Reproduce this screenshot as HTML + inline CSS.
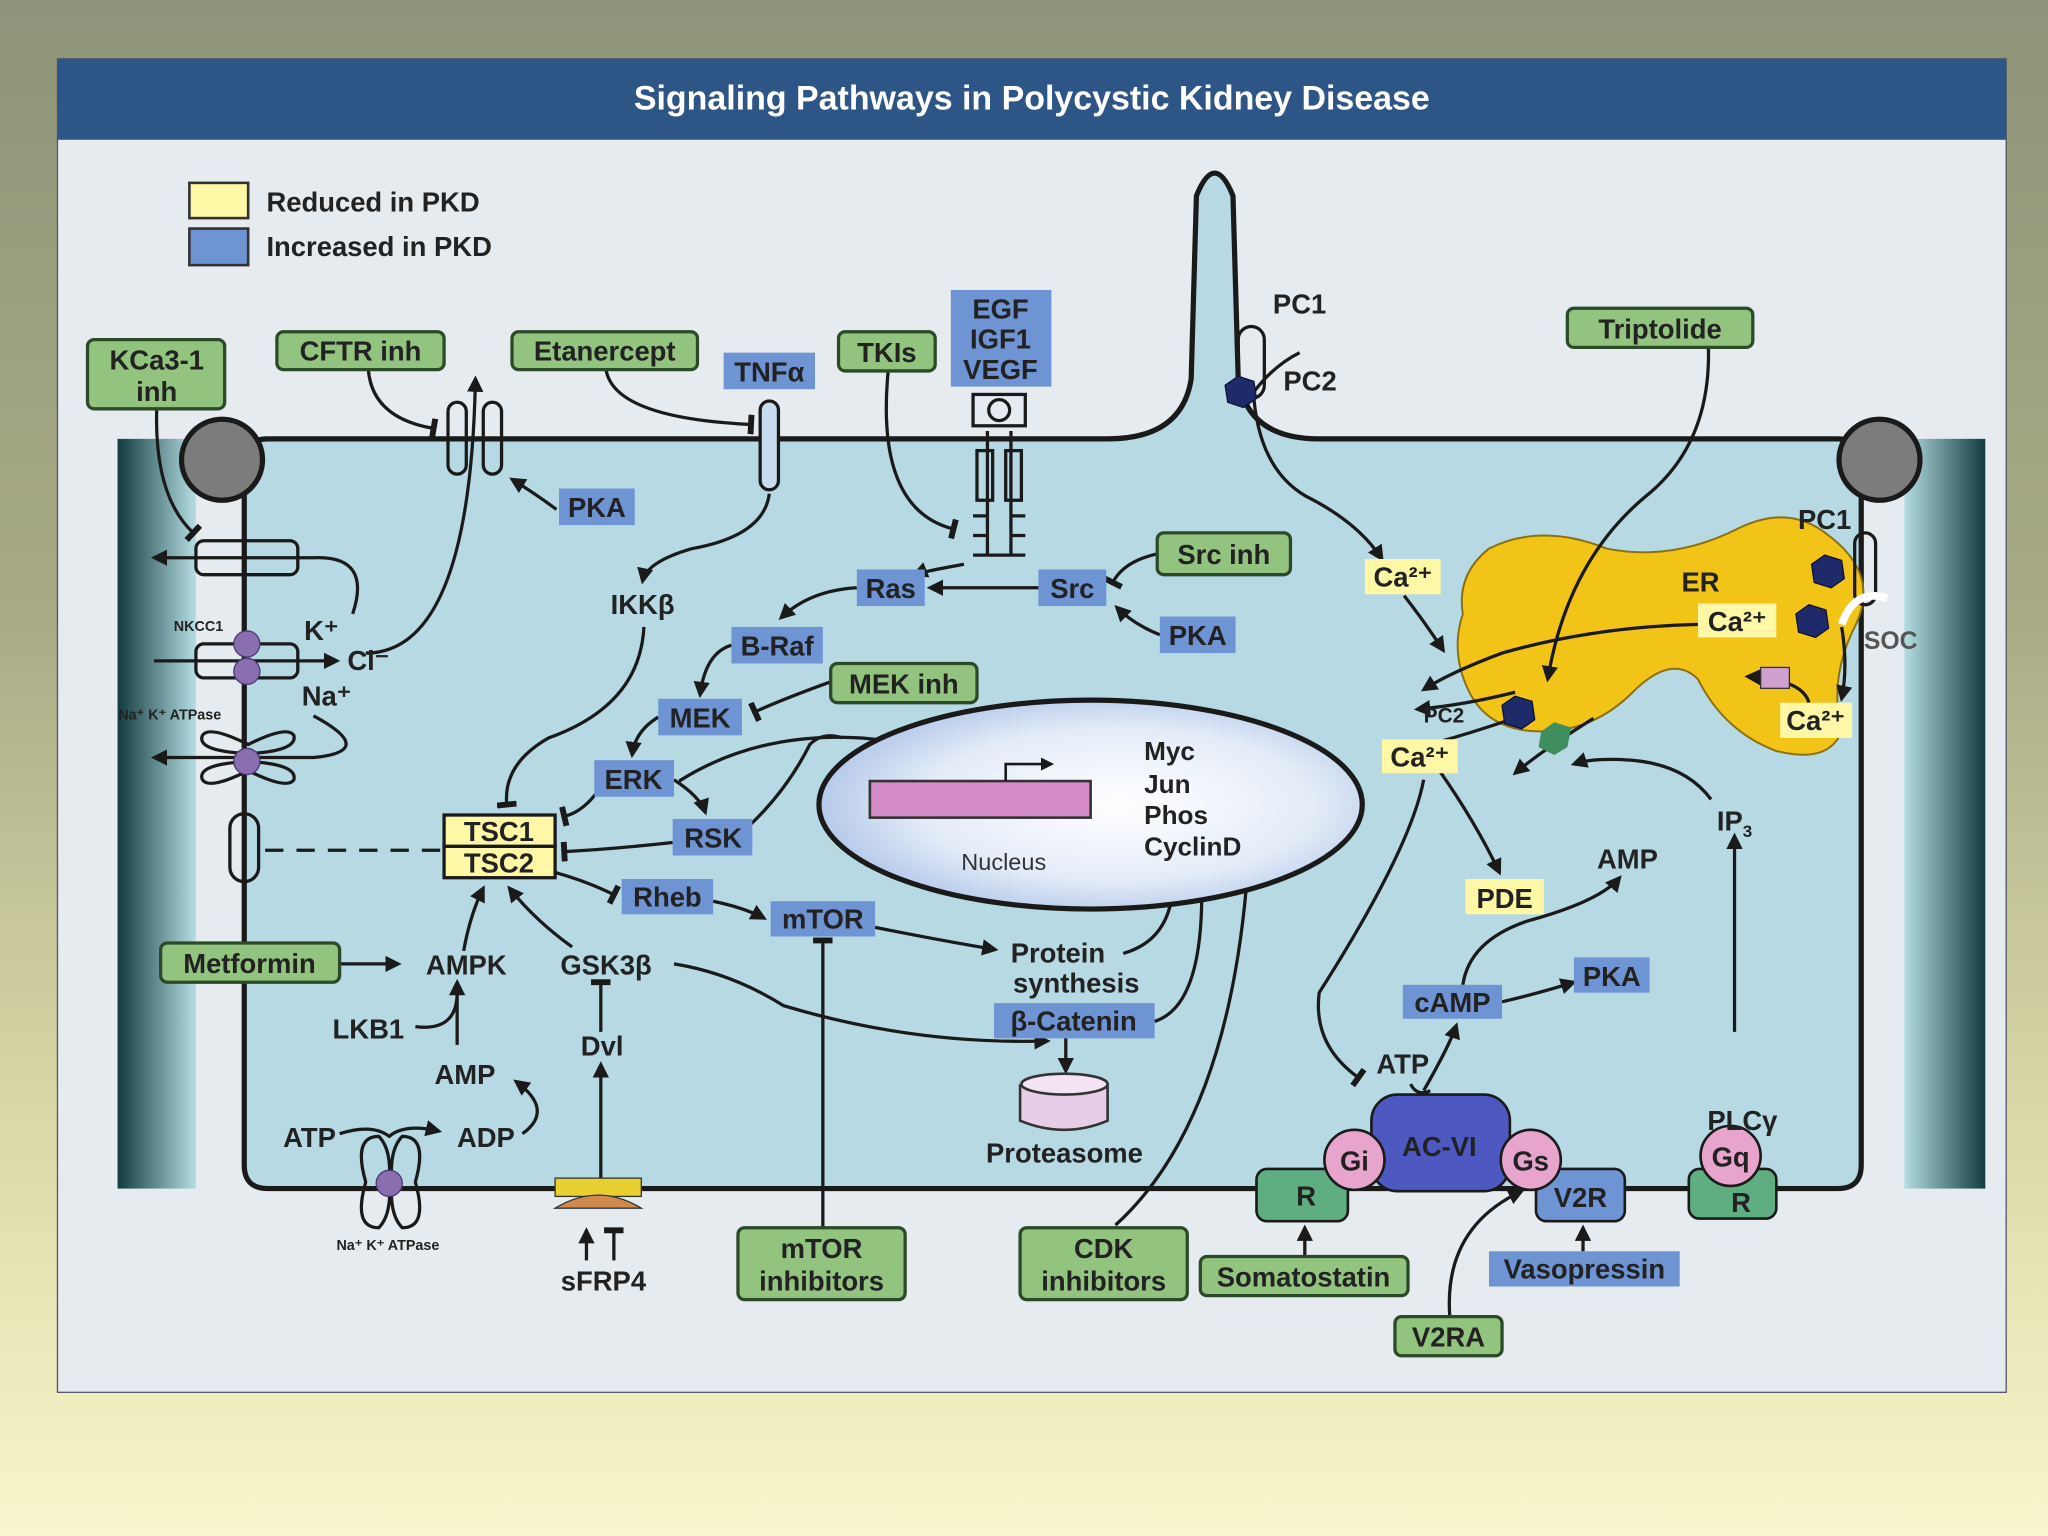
<!DOCTYPE html>
<html><head><meta charset="utf-8"><style>
html,body{margin:0;padding:0;width:2048px;height:1536px;overflow:hidden}
body{background:linear-gradient(#8e9479 0%,#a9ab86 40%,#dcdcaa 75%,#f8f6cc 100%)}
svg{display:block}
text{font-family:"Liberation Sans",sans-serif;font-weight:bold;fill:#222}
</style></head><body>
<svg width="2048" height="1536" viewBox="0 0 1568 1176" xmlns="http://www.w3.org/2000/svg">
<defs>
<marker id="a" viewBox="0 0 10 10" refX="8" refY="5" markerWidth="5" markerHeight="5" orient="auto"><path d="M0,0L10,5L0,10z" fill="#1a1a1a"/></marker>
<marker id="t" viewBox="0 0 10 10" refX="5" refY="5" markerWidth="6" markerHeight="6" orient="auto"><path d="M5,0V10" stroke="#1a1a1a" stroke-width="3"/></marker>
<linearGradient id="w" x1="0" x2="1"><stop offset="0" stop-color="#123c40"/><stop offset="1" stop-color="#b5dde3"/></linearGradient>
<linearGradient id="w2" x1="1" x2="0"><stop offset="0" stop-color="#123c40"/><stop offset="1" stop-color="#b5dde3"/></linearGradient>
<radialGradient id="n" cx="0.55" cy="0.5" r="0.6"><stop offset="0" stop-color="#ffffff"/><stop offset="0.6" stop-color="#e4ecf8"/><stop offset="1" stop-color="#a9c0e6"/></radialGradient>
</defs>
<rect x="44" y="45" width="1492" height="1021" fill="#e6ebef" stroke="#556" stroke-width="1"/>
<rect x="44" y="45" width="1492" height="62" fill="#2d5585"/>
<text x="790" y="84" text-anchor="middle" font-size="26" style="fill:#fff">Signaling Pathways in Polycystic Kidney Disease</text>
<!-- walls -->
<rect x="90" y="336" width="60" height="574" fill="url(#w)"/>
<rect x="1458" y="336" width="62" height="574" fill="url(#w2)"/>
<!-- cell -->
<path d="M205,336 H848 Q905,336 912,290 L916,150 Q930,115 944,150 L948,290 Q955,336 1010,336 H1407 Q1425,336 1425,354 V892 Q1425,910 1407,910 H205 Q187,910 187,892 V354 Q187,336 205,336Z" fill="#b6d9e4" stroke="#1a1a1a" stroke-width="4"/>
<circle cx="170" cy="352" r="31" fill="#7c7c7c" stroke="#1a1a1a" stroke-width="4"/>
<circle cx="1439" cy="352" r="31" fill="#7c7c7c" stroke="#1a1a1a" stroke-width="4"/>
<!-- legend -->
<rect x="145" y="140" width="45" height="27" fill="#fdf7a6" stroke="#333" stroke-width="2"/>
<rect x="145" y="175" width="45" height="28" fill="#6f94d4" stroke="#333" stroke-width="2"/>
<text x="204" y="162" font-size="21">Reduced in PKD</text>
<text x="204" y="196" font-size="21">Increased in PKD</text>
<!-- ER -->
<path d="M1140,420 Q1180,400 1230,420 Q1280,430 1330,405 Q1370,385 1400,410 Q1440,440 1420,480 Q1400,520 1410,560 Q1400,585 1360,575 Q1320,560 1300,520 Q1280,500 1250,530 Q1220,560 1180,560 Q1140,560 1125,530 Q1110,500 1120,470 Q1115,440 1140,420Z" fill="#f2c418" stroke="#8a7010" stroke-width="1.5"/>
<g stroke="#1a1a1a" stroke-width="2.5" fill="none">
<!-- channels -->
<rect x="150" y="414" width="78" height="26" rx="6"/>
<rect x="150" y="493" width="78" height="26" rx="6"/>
<path d="M155,563 Q150,575 190,577 Q228,575 225,563 Q220,555 190,570 Q160,555 155,563Z M155,597 Q150,585 190,583 Q228,585 225,597 Q220,605 190,590 Q160,605 155,597Z"/>
<rect x="176" y="623" width="22" height="52" rx="11"/>
<rect x="343" y="308" width="14" height="55" rx="7"/><rect x="370" y="308" width="14" height="55" rx="7"/>
<rect x="582" y="307" width="14" height="68" rx="7" fill="#c8dcef"/>
<rect x="748" y="345" width="12" height="38"/><rect x="770" y="345" width="12" height="38"/>
<rect x="745" y="302" width="40" height="24"/>
<circle cx="765" cy="314" r="8"/>
<path d="M756,330 V425 M774,330 V425 M745,395 H756 M745,410 H756 M774,395 H785 M774,410 H785 M745,425 H785"/>
<rect x="948" y="250" width="20" height="55" rx="10"/>
<rect x="1420" y="408" width="16" height="55" rx="8"/>
<path d="M280,905 Q270,870 290,870 Q300,880 298,905 Q300,930 290,940 Q270,940 280,905Z M318,905 Q328,870 308,870 Q298,880 300,905 Q298,930 308,940 Q328,940 318,905Z"/>
<!-- arrows -->
<path d="M120,313 Q118,380 148,408" marker-end="url(#t)"/>
<path d="M270,470 Q285,425 240,427 H118" marker-end="url(#a)"/>
<path d="M118,506 H258" marker-end="url(#a)"/>
<path d="M240,548 Q290,575 240,580 H118" marker-end="url(#a)"/>
<path d="M280,500 Q360,500 364,290" marker-end="url(#a)"/>
<path d="M282,283 Q285,320 332,328" marker-end="url(#t)"/>
<path d="M426,390 Q410,378 392,367" marker-end="url(#a)"/>
<path d="M464,283 Q470,320 575,325" marker-end="url(#t)"/>
<path d="M589,378 Q585,410 530,420 Q495,430 492,445" marker-end="url(#a)"/>
<path d="M680,284 Q670,390 730,405" marker-end="url(#t)"/>
<path d="M738,432 Q705,438 700,440" marker-end="url(#a)"/>
<path d="M797,450 H712" marker-end="url(#a)"/>
<path d="M886,424 Q860,430 852,446" marker-end="url(#t)"/>
<path d="M888,486 Q868,478 855,465" marker-end="url(#a)"/>
<path d="M656,450 Q620,452 598,473" marker-end="url(#a)"/>
<path d="M560,494 Q540,500 536,532" marker-end="url(#a)"/>
<path d="M636,522 Q600,535 578,545" marker-end="url(#t)"/>
<path d="M504,549 Q486,560 484,578" marker-end="url(#a)"/>
<path d="M516,597 Q536,610 540,622" marker-end="url(#a)"/>
<path d="M456,608 Q445,622 432,625" marker-end="url(#t)"/>
<path d="M515,645 Q470,650 432,652" marker-end="url(#t)"/>
<path d="M520,598 Q580,560 660,565 Q710,570 730,578" marker-end="url(#a)"/>
<path d="M565,640 Q600,610 620,570 Q630,560 645,565"/>
<path d="M493,480 Q490,540 420,565 Q385,585 388,616" marker-end="url(#t)"/>
<path d="M203,651 H340" stroke-dasharray="14,10"/>
<path d="M425,668 Q450,675 470,685" marker-end="url(#t)"/>
<path d="M546,690 Q570,695 585,703" marker-end="url(#a)"/>
<path d="M670,710 Q720,720 762,727" marker-end="url(#a)"/>
<path d="M860,730 Q895,720 898,680" marker-end="url(#a)"/>
<path d="M884,782 Q922,770 920,675" marker-end="url(#a)"/>
<path d="M854,938 Q940,860 955,670" marker-end="url(#t)"/>
<path d="M630,940 V720" marker-end="url(#t)"/>
<path d="M258,738 H305" marker-end="url(#a)"/>
<path d="M350,800 V752" marker-end="url(#a)"/>
<path d="M318,786 Q350,790 350,760"/>
<path d="M355,728 Q360,700 370,680" marker-end="url(#a)"/>
<path d="M438,725 Q410,705 390,680" marker-end="url(#a)"/>
<path d="M460,790 V752" marker-end="url(#t)"/>
<path d="M460,905 V815" marker-end="url(#a)"/>
<path d="M516,738 Q560,745 600,770 Q700,800 802,797" marker-end="url(#a)"/>
<path d="M816,795 V820" marker-end="url(#a)"/>
<path d="M260,868 Q285,860 298,870 Q310,860 336,866" marker-end="url(#a)"/>
<path d="M400,868 Q425,850 395,828" marker-end="url(#a)"/>
<path d="M449,965 V942" marker-end="url(#a)"/>
<path d="M470,965 V942" marker-end="url(#t)"/>
<path d="M999,962 V940" marker-end="url(#a)"/>
<path d="M1212,958 V940" marker-end="url(#a)"/>
<path d="M1110,1008 Q1105,940 1165,912" marker-end="url(#a)"/>
<path d="M995,270 Q975,280 960,300"/>
<path d="M960,305 Q965,360 1000,380 Q1040,400 1058,428" marker-end="url(#a)"/>
<path d="M1075,456 Q1090,475 1105,498" marker-end="url(#a)"/>
<path d="M1308,266 Q1310,340 1260,380 Q1200,430 1185,520" marker-end="url(#a)"/>
<path d="M1300,478 Q1220,480 1150,500 Q1110,515 1090,528" marker-end="url(#a)"/>
<path d="M1160,530 Q1120,540 1085,543" marker-end="url(#a)"/>
<path d="M1165,548 Q1130,560 1105,567"/>
<path d="M1220,550 Q1180,575 1160,592" marker-end="url(#a)"/>
<path d="M1328,790 V640" marker-end="url(#a)"/>
<path d="M1310,612 Q1290,585 1248,582 Q1220,580 1205,585" marker-end="url(#a)"/>
<path d="M1385,538 Q1380,520 1338,518" marker-end="url(#a)"/>
<path d="M1410,480 Q1415,510 1410,535" marker-end="url(#a)"/>
<path d="M1090,597 Q1080,650 1010,760 Q1005,800 1040,825" marker-end="url(#t)"/>
<path d="M1102,590 Q1130,630 1148,668" marker-end="url(#a)"/>
<path d="M1090,835 Q1110,800 1115,785" marker-end="url(#a)"/>
<path d="M1080,830 Q1085,840 1095,835"/>
<path d="M1150,767 Q1180,760 1205,752" marker-end="url(#a)"/>
<path d="M1120,754 Q1125,720 1170,705 Q1225,690 1240,672" marker-end="url(#a)"/>
</g>
<!-- purple balls -->
<g fill="#8a6fb0" stroke="#4a3a70" stroke-width="1"><circle cx="189" cy="493" r="10"/><circle cx="189" cy="514" r="10"/><circle cx="189" cy="583" r="10"/><circle cx="298" cy="906" r="10"/></g>
<!-- hexagons -->
<g fill="#1e2a6a" stroke="#0d1233"><polygon points="938,295 948,288 960,292 962,305 952,312 940,308"/><polygon points="1387,432 1397,425 1410,429 1412,443 1402,450 1389,446"/><polygon points="1375,470 1385,463 1398,467 1400,481 1390,488 1377,484"/><polygon points="1150,540 1160,533 1173,537 1175,551 1165,558 1152,554"/></g>
<polygon points="1180,560 1190,553 1203,557 1200,572 1190,578 1178,572" fill="#3e8e5e"/>
<rect x="1348" y="511" width="22" height="16" fill="#d0a0d0" stroke="#333"/>
<path d="M1410,478 Q1420,450 1445,458" stroke="#fff" stroke-width="6" fill="none"/>
<!-- nucleus -->
<ellipse cx="835" cy="616" rx="208" ry="80" fill="url(#n)" stroke="#1a1a1a" stroke-width="4"/>
<rect x="666" y="598" width="169" height="28" fill="#d68cc8" stroke="#333" stroke-width="2"/>
<path d="M770,598 V585 H805" stroke="#1a1a1a" stroke-width="2" fill="none" marker-end="url(#a)"/>
<text x="736" y="666" font-size="18" font-weight="normal" style="font-weight:normal;fill:#333">Nucleus</text>
<g font-size="20"><text x="876" y="582">Myc</text><text x="876" y="607">Jun</text><text x="876" y="631">Phos</text><text x="876" y="655">CyclinD</text></g>
<!-- proteasome -->
<path d="M781,830 V858 Q815,872 848,858 V830" fill="#e8cde8" stroke="#333" stroke-width="2"/>
<ellipse cx="815" cy="830" rx="33" ry="8" fill="#f3e3f3" stroke="#333" stroke-width="2"/>
<!-- receptors bottom -->
<rect x="1050" y="838" width="106" height="74" rx="20" fill="#4d58c0" stroke="#1a1a1a" stroke-width="2"/>
<rect x="962" y="895" width="70" height="40" rx="8" fill="#5fae82" stroke="#1a1a1a" stroke-width="2"/>
<rect x="1176" y="895" width="68" height="40" rx="8" fill="#6f94d4" stroke="#1a1a1a" stroke-width="2"/>
<rect x="1293" y="895" width="67" height="38" rx="8" fill="#5fae82" stroke="#1a1a1a" stroke-width="2"/>
<circle cx="1037" cy="888" r="23" fill="#e7a4cc" stroke="#1a1a1a" stroke-width="2"/>
<circle cx="1172" cy="888" r="23" fill="#e7a4cc" stroke="#1a1a1a" stroke-width="2"/>
<circle cx="1325" cy="885" r="23" fill="#e7a4cc" stroke="#1a1a1a" stroke-width="2"/>
<rect x="425" y="902" width="66" height="14" fill="#e8d030" stroke="#333"/>
<path d="M425,925 Q458,905 491,925Z" fill="#d08a50" stroke="#333"/>
<!-- boxes -->
<g stroke="#2c4a28" stroke-width="2.5" fill="#93c47f">
<rect x="67" y="260" width="105" height="53" rx="5"/>
<rect x="212" y="254" width="128" height="29" rx="5"/>
<rect x="392" y="254" width="142" height="29" rx="5"/>
<rect x="642" y="254" width="74" height="30" rx="5"/>
<rect x="1200" y="236" width="142" height="30" rx="5"/>
<rect x="886" y="408" width="102" height="32" rx="5"/>
<rect x="636" y="508" width="112" height="30" rx="5"/>
<rect x="123" y="722" width="137" height="30" rx="5"/>
<rect x="565" y="940" width="128" height="55" rx="5"/>
<rect x="781" y="940" width="128" height="55" rx="5"/>
<rect x="919" y="962" width="159" height="30" rx="5"/>
<rect x="1068" y="1008" width="82" height="30" rx="5"/>
</g>
<g fill="#6f94d4">
<rect x="554" y="270" width="70" height="28"/><rect x="728" y="222" width="77" height="74"/>
<rect x="428" y="374" width="58" height="28"/><rect x="888" y="472" width="58" height="28"/>
<rect x="795" y="436" width="52" height="28"/><rect x="656" y="436" width="52" height="28"/>
<rect x="560" y="480" width="70" height="28"/><rect x="504" y="535" width="64" height="28"/>
<rect x="455" y="582" width="61" height="28"/><rect x="515" y="627" width="61" height="28"/>
<rect x="476" y="673" width="70" height="27"/><rect x="590" y="690" width="80" height="27"/>
<rect x="761" y="768" width="123" height="27"/><rect x="1074" y="754" width="76" height="26"/>
<rect x="1205" y="733" width="58" height="27"/><rect x="1140" y="958" width="146" height="27"/>
</g>
<g fill="#fdf7a6"><rect x="1045" y="428" width="58" height="27"/><rect x="1058" y="566" width="58" height="26"/><rect x="1363" y="538" width="55" height="27"/><rect x="1300" y="462" width="60" height="26"/><rect x="1122" y="673" width="60" height="27"/></g>
<rect x="340" y="624" width="85" height="24" fill="#fdf7a6" stroke="#1a1a1a" stroke-width="2.5"/>
<rect x="340" y="648" width="85" height="24" fill="#fdf7a6" stroke="#1a1a1a" stroke-width="2.5"/>
<!-- labels -->
<g font-size="21" text-anchor="middle">
<text x="120" y="283">KCa3-1</text><text x="120" y="307">inh</text>
<text x="276" y="276">CFTR inh</text><text x="463" y="276">Etanercept</text>
<text x="589" y="292">TNFα</text><text x="679" y="277">TKIs</text>
<text x="766" y="244">EGF</text><text x="766" y="267">IGF1</text><text x="766" y="290">VEGF</text>
<text x="1271" y="259">Triptolide</text><text x="937" y="432">Src inh</text>
<text x="692" y="531">MEK inh</text><text x="191" y="745">Metformin</text>
<text x="629" y="963">mTOR</text><text x="629" y="988">inhibitors</text>
<text x="845" y="963">CDK</text><text x="845" y="988">inhibitors</text>
<text x="998" y="985">Somatostatin</text><text x="1109" y="1031">V2RA</text>
<text x="457" y="396">PKA</text><text x="917" y="494">PKA</text><text x="821" y="458">Src</text><text x="682" y="458">Ras</text>
<text x="595" y="502">B-Raf</text><text x="536" y="557">MEK</text><text x="485" y="604">ERK</text><text x="546" y="649">RSK</text>
<text x="511" y="694">Rheb</text><text x="630" y="711">mTOR</text><text x="822" y="789">β-Catenin</text>
<text x="1112" y="775">cAMP</text><text x="1234" y="755">PKA</text><text x="1213" y="979">Vasopressin</text>
<text x="1074" y="449">Ca²⁺</text><text x="1087" y="587">Ca²⁺</text><text x="1390" y="559">Ca²⁺</text><text x="1330" y="483">Ca²⁺</text>
<text x="1152" y="695">PDE</text>
<text x="382" y="644">TSC1</text><text x="382" y="668">TSC2</text>
<text x="492" y="470">IKKβ</text><text x="357" y="746">AMPK</text><text x="464" y="746">GSK3β</text>
<text x="282" y="795">LKB1</text><text x="356" y="830">AMP</text><text x="237" y="878">ATP</text><text x="372" y="878">ADP</text>
<text x="461" y="808">Dvl</text><text x="462" y="988">sFRP4</text>
<text x="810" y="737">Protein</text><text x="824" y="760">synthesis</text>
<text x="815" y="890">Proteasome</text><text x="1074" y="822">ATP</text>
<text x="1000" y="923">R</text><text x="1333" y="928">R</text><text x="1037" y="896">Gi</text><text x="1172" y="896">Gs</text><text x="1325" y="893">Gq</text>
<text x="1210" y="924">V2R</text><text x="1102" y="885">AC-VI</text><text x="1334" y="865">PLCγ</text>
<text x="1246" y="665">AMP</text><text x="1328" y="636">IP<tspan font-size="13" dy="5">3</tspan></text>
<text x="995" y="240">PC1</text><text x="1003" y="299">PC2</text><text x="1397" y="405">PC1</text>
<text x="1302" y="453">ER</text><text x="246" y="490">K⁺</text><text x="282" y="513">Cl⁻</text><text x="250" y="540">Na⁺</text>
</g>
<text x="1427" y="497" font-size="19" style="fill:#555">SOC</text>
<text x="1090" y="553" font-size="16">PC2</text>
<g font-size="11" text-anchor="middle"><text x="152" y="483">NKCC1</text><text x="130" y="551">Na⁺ K⁺ ATPase</text><text x="297" y="957">Na⁺ K⁺ ATPase</text></g>
</svg>
</body></html>
